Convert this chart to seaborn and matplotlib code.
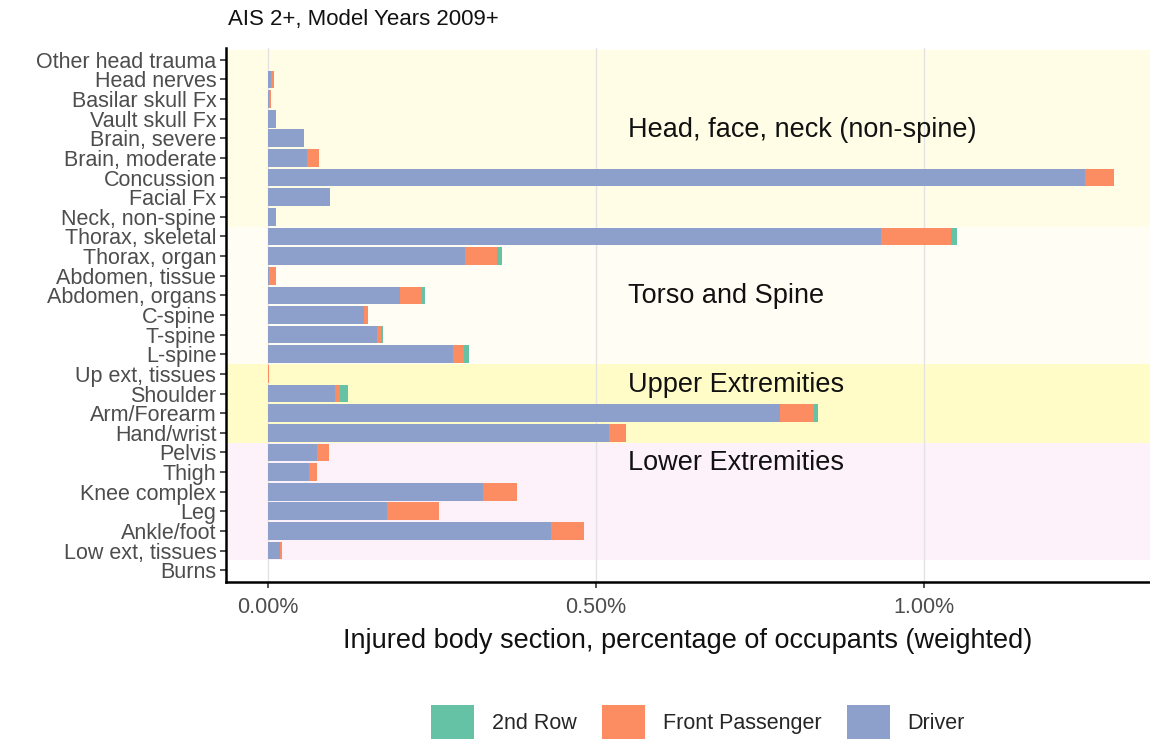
import matplotlib
matplotlib.use("Agg")
import matplotlib.pyplot as plt
from matplotlib.patches import Patch
import seaborn as sns
import pandas as pd
import numpy as np

categories = ["Other head trauma", "Head nerves", "Basilar skull Fx", "Vault skull Fx",
              "Brain, severe", "Brain, moderate", "Concussion", "Facial Fx",
              "Neck, non-spine", "Thorax, skeletal", "Thorax, organ", "Abdomen, tissue",
              "Abdomen, organs", "C-spine", "T-spine", "L-spine", "Up ext, tissues",
              "Shoulder", "Arm/Forearm", "Hand/wrist", "Pelvis", "Thigh",
              "Knee complex", "Leg", "Ankle/foot", "Low ext, tissues", "Burns"]

driver = [0.000, 0.005, 0.001, 0.012, 0.055, 0.059, 1.245, 0.094, 0.012,
          0.934, 0.300, 0.001, 0.201, 0.146, 0.166, 0.282, 0.000,
          0.102, 0.781, 0.520, 0.075, 0.063, 0.327, 0.182, 0.431, 0.018, 0.000]
front_passenger = [0.000, 0.004, 0.004, 0.000, 0.000, 0.018, 0.045, 0.000, 0.000,
                   0.107, 0.049, 0.011, 0.033, 0.007, 0.007, 0.017, 0.001,
                   0.008, 0.051, 0.026, 0.018, 0.012, 0.052, 0.079, 0.050, 0.004, 0.000]
second_row = [0.000, 0.000, 0.000, 0.000, 0.000, 0.000, 0.000, 0.000, 0.000,
              0.009, 0.007, 0.000, 0.005, 0.000, 0.002, 0.007, 0.000,
              0.012, 0.006, 0.000, 0.000, 0.000, 0.000, 0.000, 0.000, 0.000, 0.000]

band_labels = ["Head, face, neck (non-spine)", "Torso and Spine",
               "Upper Extremities", "Lower Extremities"]
band_first = ["Other head trauma", "Thorax, skeletal", "Up ext, tissues", "Pelvis"]
band_last = ["Neck, non-spine", "L-spine", "Hand/wrist", "Low ext, tissues"]
band_colors = ["#FFFDE6", "#FFFDF4", "#FFFCC8", "#FDF1FA"]

series_names = ["2nd Row", "Front Passenger", "Driver"]
series_colors = {"2nd Row": "#66C2A5", "Front Passenger": "#FC8D62", "Driver": "#8DA0CB"}

title = "AIS 2+, Model Years 2009+"
xlabel = "Injured body section, percentage of occupants (weighted)"
xticks = [0.0, 0.5, 1.0]

df = pd.DataFrame({"cat": categories, "Driver": driver,
                   "Front Passenger": front_passenger, "2nd Row": second_row})
df["cum_driver"] = df["Driver"]
df["cum_fp"] = df["Driver"] + df["Front Passenger"]
df["cum_all"] = df["cum_fp"] + df["2nd Row"]

sns.set_theme(style="white")
plt.rcParams["font.family"] = ["Liberation Sans", "DejaVu Sans"]

W, H = 1150, 741
fig = plt.figure(figsize=(W / 100, H / 100), dpi=100)
ax = fig.add_axes([226 / W, 1 - 582 / H, (W - 226) / W, (582 - 48) / H])

# bands
for lab, a, b, col in zip(band_labels, band_first, band_last, band_colors):
    i0 = categories.index(a)
    i1 = categories.index(b)
    ax.axhspan(i0 - 0.5, i1 + 0.5, color=col, zorder=0, lw=0)

for xt in xticks:
    ax.axvline(xt, color="#E3E3E3", lw=1.0, zorder=0.5)

for col_name, cum in [("2nd Row", "cum_all"), ("Front Passenger", "cum_fp"), ("Driver", "cum_driver")]:
    sns.barplot(data=df, y="cat", x=cum, order=categories, color=series_colors[col_name],
                orient="h", width=0.9, ax=ax, saturation=1, errorbar=None, zorder=2,
                linewidth=0)

ax.set_xlim(-42 / 656, (W - 268) / 656)
ax.set_ylim(26.6, -0.6)

band_text_y = [3.58, 12.03, 16.56, 20.53]
for lab, yy in zip(band_labels, band_text_y):
    ax.text(0.549, yy, lab, fontsize=19.5, va="center", ha="left", color="#111111", zorder=3)

ax.set_xticks(xticks)
ax.set_xticklabels([f"{v:.2f}%" for v in xticks])
ax.set_ylabel("")
ax.set_xlabel(xlabel, fontsize=19.5, color="#111111", labelpad=7)
ax.tick_params(axis="y", labelsize=15.5, labelcolor="#4D4D4D", length=4, width=1.2,
               color="#333333", pad=3, left=True)
ax.tick_params(axis="x", labelsize=15.5, labelcolor="#4D4D4D", length=4, width=1.2,
               color="#333333", pad=7, bottom=True)
for s in ["top", "right"]:
    ax.spines[s].set_visible(False)
for s in ["left", "bottom"]:
    ax.spines[s].set_color("#000000")
    ax.spines[s].set_linewidth(1.8)
ax.grid(False)

fig.text(228 / W, 1 - 20 / H, title, fontsize=16, ha="left", va="center", color="#111111")

handles = [Patch(facecolor=series_colors[n], edgecolor="none", label=n) for n in series_names]
fig.legend(handles=handles, loc="center", bbox_to_anchor=(698 / W, 1 - 722 / H), ncol=3,
           frameon=False, fontsize=15.5, handlelength=2.0, handleheight=2.1,
           columnspacing=1.2, handletextpad=0.8)

fig.savefig("out.png", dpi=100)
